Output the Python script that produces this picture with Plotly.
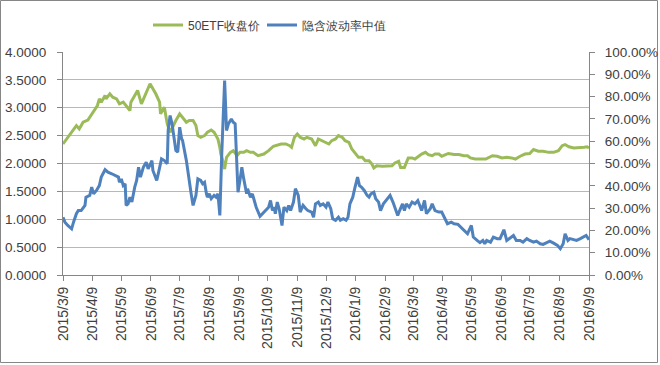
import plotly.graph_objects as go

# ---- data ----
etf_dates = [
    "2015-03-09", "2015-03-13", "2015-03-19", "2015-03-23", "2015-03-26", "2015-03-30",
    "2015-04-04", "2015-04-09", "2015-04-14", "2015-04-16", "2015-04-18", "2015-04-22",
    "2015-04-23", "2015-04-27", "2015-04-30", "2015-05-04", "2015-05-07", "2015-05-11",
    "2015-05-14", "2015-05-18", "2015-05-19", "2015-05-23", "2015-05-26", "2015-05-30",
    "2015-06-02", "2015-06-06", "2015-06-08", "2015-06-11", "2015-06-14", "2015-06-18",
    "2015-06-19", "2015-06-23", "2015-06-26", "2015-06-29", "2015-07-02", "2015-07-05",
    "2015-07-09", "2015-07-12", "2015-07-16", "2015-07-19", "2015-07-23", "2015-07-26",
    "2015-07-28", "2015-07-31", "2015-08-04", "2015-08-07", "2015-08-11", "2015-08-14",
    "2015-08-18", "2015-08-20", "2015-08-21", "2015-08-23", "2015-08-25", "2015-08-27",
    "2015-08-31", "2015-09-03", "2015-09-07", "2015-09-10", "2015-09-14", "2015-09-17",
    "2015-09-21", "2015-09-24", "2015-09-29", "2015-10-05", "2015-10-10", "2015-10-15",
    "2015-10-23", "2015-10-28", "2015-11-01", "2015-11-03", "2015-11-06", "2015-11-09",
    "2015-11-12", "2015-11-16", "2015-11-19", "2015-11-24", "2015-11-28", "2015-12-01",
    "2015-12-05", "2015-12-08", "2015-12-12", "2015-12-15", "2015-12-19", "2015-12-22",
    "2015-12-26", "2015-12-29", "2016-01-02", "2016-01-05", "2016-01-09", "2016-01-12",
    "2016-01-16", "2016-01-19", "2016-01-23", "2016-01-26", "2016-01-28", "2016-01-31",
    "2016-02-06", "2016-02-11", "2016-02-16", "2016-02-19", "2016-02-23", "2016-02-25",
    "2016-02-29", "2016-03-04", "2016-03-08", "2016-03-11", "2016-03-15", "2016-03-18",
    "2016-03-22", "2016-03-25", "2016-03-29", "2016-04-01", "2016-04-05", "2016-04-08",
    "2016-04-12", "2016-04-15", "2016-04-21", "2016-04-26", "2016-05-01", "2016-05-05",
    "2016-05-08", "2016-05-13", "2016-05-19", "2016-05-24", "2016-05-31", "2016-06-05",
    "2016-06-10", "2016-06-15", "2016-06-20", "2016-06-24", "2016-06-29", "2016-07-04",
    "2016-07-09", "2016-07-13", "2016-07-18", "2016-07-23", "2016-07-29", "2016-08-03",
    "2016-08-08", "2016-08-12", "2016-08-15", "2016-08-19", "2016-08-24", "2016-08-29",
    "2016-09-04", "2016-09-07", "2016-09-09",
]
etf_close = [
    2.35, 2.44, 2.59, 2.68, 2.62, 2.74,
    2.78, 2.92, 3.04, 3.16, 3.10, 3.22,
    3.16, 3.25, 3.19, 3.16, 3.07, 3.10,
    3.04, 2.95, 3.10, 3.22, 3.31, 3.07,
    3.19, 3.34, 3.43, 3.34, 3.25, 3.10,
    2.89, 3.01, 2.71, 2.56, 2.68, 2.77,
    2.89, 2.83, 2.74, 2.77, 2.77, 2.68,
    2.50, 2.47, 2.50, 2.56, 2.60, 2.56,
    2.44, 2.29, 2.17, 2.05, 1.90, 2.11,
    2.20, 2.23, 2.14, 2.20, 2.20, 2.23,
    2.20, 2.20, 2.14, 2.17, 2.23, 2.31,
    2.35, 2.35, 2.32, 2.29, 2.47, 2.53,
    2.47, 2.44, 2.47, 2.44, 2.32, 2.44,
    2.41, 2.38, 2.35, 2.41, 2.44, 2.50,
    2.47, 2.41, 2.38, 2.26, 2.17, 2.11,
    2.11, 2.05, 2.05, 1.99, 1.92, 1.96,
    1.95, 1.95, 1.96, 2.01, 2.04, 1.93,
    1.93, 2.10, 2.10, 2.08, 2.13, 2.17,
    2.20, 2.16, 2.14, 2.17, 2.17, 2.13,
    2.16, 2.18, 2.16, 2.16, 2.14, 2.14,
    2.10, 2.08, 2.08, 2.08, 2.14, 2.13,
    2.10, 2.11, 2.10, 2.08, 2.13, 2.17,
    2.18, 2.25, 2.22, 2.22, 2.20, 2.20,
    2.23, 2.32, 2.34, 2.30, 2.28, 2.28,
    2.29, 2.30, 2.28,
]

iv_dates = [
    "2015-03-09", "2015-03-11", "2015-03-14", "2015-03-18", "2015-03-20", "2015-03-23",
    "2015-03-25", "2015-03-28", "2015-04-01", "2015-04-02", "2015-04-06", "2015-04-08",
    "2015-04-10", "2015-04-13", "2015-04-16", "2015-04-18", "2015-04-22", "2015-04-25",
    "2015-04-29", "2015-05-02", "2015-05-06", "2015-05-07", "2015-05-09", "2015-05-11",
    "2015-05-13", "2015-05-14", "2015-05-16", "2015-05-18", "2015-05-20", "2015-05-23",
    "2015-05-25", "2015-05-27", "2015-05-29", "2015-06-01", "2015-06-04", "2015-06-06",
    "2015-06-10", "2015-06-11", "2015-06-15", "2015-06-17", "2015-06-20", "2015-06-23",
    "2015-06-26", "2015-06-27", "2015-06-29", "2015-07-01", "2015-07-03", "2015-07-05",
    "2015-07-07", "2015-07-09", "2015-07-11", "2015-07-12", "2015-07-16", "2015-07-18",
    "2015-07-19", "2015-07-21", "2015-07-23", "2015-07-25", "2015-07-26", "2015-07-28",
    "2015-07-31", "2015-08-02", "2015-08-04", "2015-08-06", "2015-08-07", "2015-08-09",
    "2015-08-11", "2015-08-14", "2015-08-16", "2015-08-18", "2015-08-20", "2015-08-22",
    "2015-08-25", "2015-08-27", "2015-08-29", "2015-09-01", "2015-09-03", "2015-09-05",
    "2015-09-08", "2015-09-10", "2015-09-12", "2015-09-14", "2015-09-17", "2015-09-18",
    "2015-09-21", "2015-09-23", "2015-09-25", "2015-09-27", "2015-10-01", "2015-10-04",
    "2015-10-07", "2015-10-10", "2015-10-12", "2015-10-14", "2015-10-16", "2015-10-17",
    "2015-10-19", "2015-10-21", "2015-10-24", "2015-10-26", "2015-10-29", "2015-10-31",
    "2015-11-02", "2015-11-05", "2015-11-07", "2015-11-10", "2015-11-12", "2015-11-15",
    "2015-11-18", "2015-11-20", "2015-11-24", "2015-11-26", "2015-11-28", "2015-12-01",
    "2015-12-03", "2015-12-06", "2015-12-09", "2015-12-11", "2015-12-14", "2015-12-16",
    "2015-12-19", "2015-12-22", "2015-12-24", "2015-12-27", "2015-12-30", "2016-01-01",
    "2016-01-03", "2016-01-06", "2016-01-08", "2016-01-11", "2016-01-13", "2016-01-15",
    "2016-01-18", "2016-01-21", "2016-01-23", "2016-01-25", "2016-01-28", "2016-01-30",
    "2016-02-02", "2016-02-04", "2016-02-07", "2016-02-11", "2016-02-14", "2016-02-17",
    "2016-02-19", "2016-02-22", "2016-02-24", "2016-02-27", "2016-02-29", "2016-03-02",
    "2016-03-05", "2016-03-08", "2016-03-11", "2016-03-14", "2016-03-16", "2016-03-18",
    "2016-03-21", "2016-03-23", "2016-03-27", "2016-03-29", "2016-04-01", "2016-04-05",
    "2016-04-08", "2016-04-11", "2016-04-14", "2016-04-18", "2016-04-21", "2016-04-25",
    "2016-04-28", "2016-05-02", "2016-05-05", "2016-05-09", "2016-05-11", "2016-05-15",
    "2016-05-18", "2016-05-21", "2016-05-23", "2016-05-25", "2016-05-29", "2016-06-01",
    "2016-06-05", "2016-06-08", "2016-06-12", "2016-06-15", "2016-06-18", "2016-06-22",
    "2016-06-25", "2016-06-29", "2016-07-02", "2016-07-06", "2016-07-09", "2016-07-13",
    "2016-07-16", "2016-07-20", "2016-07-23", "2016-07-27", "2016-07-30", "2016-08-03",
    "2016-08-07", "2016-08-10", "2016-08-13", "2016-08-15", "2016-08-18", "2016-08-20",
    "2016-08-24", "2016-08-27", "2016-08-31", "2016-09-04", "2016-09-06", "2016-09-09",
]
iv_median = [
    25.9, 23.7, 22.2, 20.7, 23.7, 27.5,
    28.9, 28.9, 31.2, 34.9, 35.7, 39.4,
    36.4, 37.9, 40.1, 43.9, 47.2, 46.1,
    45.4, 44.6, 43.9, 41.6, 43.1, 40.1,
    40.9, 31.2, 31.9, 34.9, 32.7, 39.4,
    42.4, 48.3, 43.9, 48.3, 50.6, 47.6,
    51.3, 46.9, 42.4, 46.1, 52.1, 51.3,
    49.9, 65.0, 71.5, 67.8, 61.8, 55.8,
    55.1, 66.3, 61.1, 60.3, 51.3, 44.6,
    42.4, 36.4, 31.2, 34.9, 35.7, 43.1,
    42.4, 40.9, 41.6, 36.4, 34.9, 36.4,
    34.2, 35.7, 34.9, 36.4, 26.7, 54.3,
    87.2, 64.8, 67.8, 70.0, 68.5, 67.8,
    37.1, 42.4, 48.3, 43.1, 36.4, 38.7,
    34.9, 36.4, 32.7, 30.4, 26.3, 27.7,
    28.9, 30.4, 33.4, 28.9, 30.4, 27.5,
    32.7, 29.7, 22.2, 30.4, 28.9, 31.2,
    28.9, 32.7, 38.7, 35.7, 28.2, 31.2,
    29.7, 28.9, 28.2, 25.9, 31.9, 32.7,
    31.2, 31.9, 30.4, 32.7, 29.7, 25.2,
    24.5, 25.9, 24.5, 25.2, 24.5, 25.9,
    31.9, 34.9, 38.7, 43.9, 40.1, 39.4,
    37.9, 35.7, 34.9, 36.4, 37.1, 34.2,
    32.7, 28.9, 31.9, 34.2, 35.7, 32.7,
    30.4, 26.7, 28.9, 31.9, 28.9, 31.9,
    30.4, 32.7, 31.9, 33.4, 31.2, 28.9,
    33.4, 27.5, 29.7, 31.9, 28.9, 28.2,
    28.2, 25.2, 23.0, 23.7, 23.0, 22.7,
    21.5, 20.0, 18.5, 22.2, 17.0, 15.5,
    14.5, 15.5, 14.0, 15.5, 14.7, 17.0,
    16.3, 16.3, 20.3, 15.5, 16.3, 17.7,
    15.5, 15.5, 14.7, 16.3, 15.5, 14.7,
    15.2, 14.0, 13.7, 14.7, 15.2, 14.3,
    13.3, 11.8, 14.0, 18.5, 15.5, 16.3,
    15.8, 15.5, 16.3, 17.0, 17.7, 15.8,
]

tick_dates = [
    "2015-03-09", "2015-04-09", "2015-05-09", "2015-06-09", "2015-07-09", "2015-08-09",
    "2015-09-09", "2015-10-09", "2015-11-09", "2015-12-09", "2016-01-09", "2016-02-09",
    "2016-03-09", "2016-04-09", "2016-05-09", "2016-06-09", "2016-07-09", "2016-08-09",
    "2016-09-09",
]
tick_labels = [
    "2015/3/9", "2015/4/9", "2015/5/9", "2015/6/9", "2015/7/9", "2015/8/9",
    "2015/9/9", "2015/10/9", "2015/11/9", "2015/12/9", "2016/1/9", "2016/2/9",
    "2016/3/9", "2016/4/9", "2016/5/9", "2016/6/9", "2016/7/9", "2016/8/9",
    "2016/9/9",
]
series_names = ["50ETF收盘价", "隐含波动率中值"]

GREEN = "#9BBB59"
BLUE = "#4F81BD"
AXIS = "#868686"
GRID = "#b8b8b8"
TXT = "#404040"
FONT = "Liberation Sans, Arial, sans-serif"

fig = go.Figure()
fig.add_trace(go.Scatter(x=etf_dates, y=etf_close, mode="lines", name=series_names[0],
                         line=dict(color=GREEN, width=3), yaxis="y", legend="legend"))
fig.add_trace(go.Scatter(x=iv_dates, y=iv_median, mode="lines", name=series_names[1],
                         line=dict(color=BLUE, width=3), yaxis="y2", legend="legend2"))

W, H = 660, 365
L, R, T, B = 63, 71, 52, 90
pw, ph = W - L - R, H - T - B

leg_common = dict(orientation="h", xanchor="left", yanchor="middle",
                  y=1 + (T - 25) / ph, font=dict(size=12, color=TXT),
                  bgcolor="rgba(0,0,0,0)", itemwidth=30)

fig.update_layout(
    width=W, height=H,
    margin=dict(l=L, r=R, t=T, b=B, pad=0, autoexpand=False),
    paper_bgcolor="white", plot_bgcolor="white",
    font=dict(family=FONT, size=14, color=TXT),
    showlegend=True,
    legend=dict(x=(148 - L) / pw, **leg_common),
    legend2=dict(x=(262 - L) / pw, **leg_common),
    xaxis=dict(
        type="date", range=[tick_dates[0], tick_dates[-1]],
        tickmode="array", tickvals=tick_dates, ticktext=tick_labels,
        tickangle=-90, ticks="outside", ticklen=5, tickcolor=AXIS,
        showline=True, linecolor=AXIS, linewidth=1,
        showgrid=False, zeroline=False, automargin=False,
        tickfont=dict(size=14, color=TXT),
    ),
    yaxis=dict(
        range=[0, 4], dtick=0.5, tick0=0, tickformat=".4f",
        ticks="outside", ticklen=5, tickcolor=AXIS,
        showline=True, linecolor=AXIS, linewidth=1,
        showgrid=True, gridcolor=GRID, gridwidth=1, zeroline=False, automargin=False,
        tickfont=dict(size=13.5, color=TXT), ticklabelstandoff=8,
    ),
    yaxis2=dict(
        overlaying="y", side="right", range=[0, 100], dtick=10, tick0=0,
        tickformat=".2f", ticksuffix="%",
        ticks="outside", ticklen=5, tickcolor=AXIS,
        showline=True, linecolor=AXIS, linewidth=1,
        showgrid=False, zeroline=False, automargin=False,
        tickfont=dict(size=13.5, color=TXT), ticklabelstandoff=7,
    ),
    shapes=[dict(type="rect", xref="paper", yref="paper",
                 x0=(0.5 - L) / pw, x1=(W - 2.5 - L) / pw,
                 y0=-(H - 2.5 - (T + ph)) / ph, y1=1 + (T - 0.5) / ph,
                 line=dict(color=AXIS, width=1), fillcolor="rgba(0,0,0,0)", layer="below")],
)

fig.write_html("out.html",
               config={"displayModeBar": False},
               post_script="document.body.style.margin='0';document.body.style.overflow='hidden';")
